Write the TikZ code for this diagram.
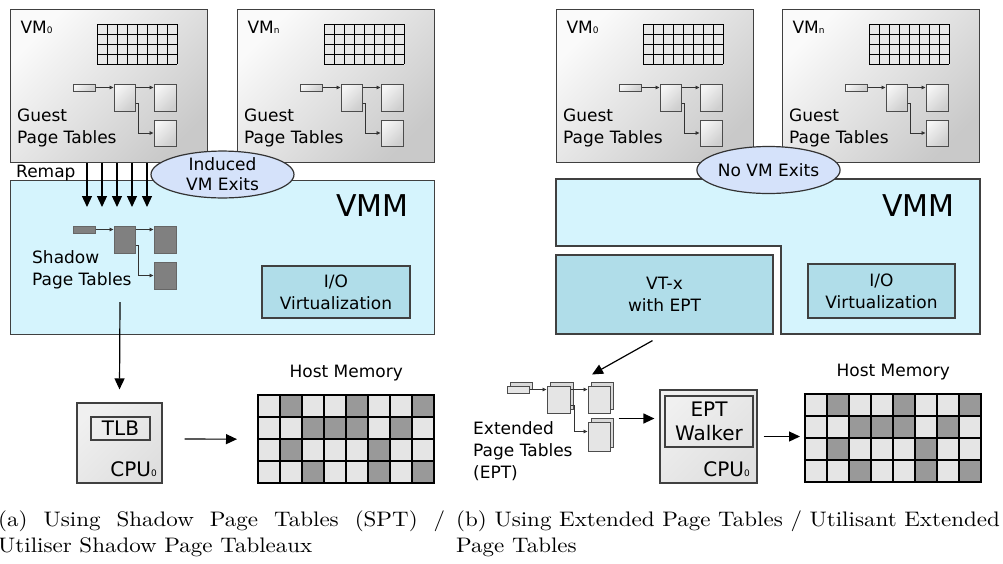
\documentclass[tikz,border=0pt]{standalone}
\usepackage{fontspec}
\newfontfamily\dejavu{DejaVu Sans}
\newfontfamily\capfont{lmroman10-regular.otf}[FakeStretch=1.095]
\usepackage{tikz}
\usetikzlibrary{positioning,shapes.geometric,arrows.meta,shadows}

\definecolor{vmmfill}{RGB}{213,244,253}
\definecolor{iofill}{RGB}{176,221,233}
\definecolor{exitfill}{RGB}{213,226,250}
\definecolor{sptfill}{RGB}{128,128,128}
\definecolor{memlight}{RGB}{229,229,229}
\definecolor{memdark}{RGB}{153,153,153}
\newcommand{\idx}[1]{{\fontsize{9}{9}\selectfont #1}}

\begin{document}
\begin{tikzpicture}[x=1pt, y=-1pt,
  every node/.style={font=\dejavu\fontsize{17}{22}\selectfont},
  >={Triangle[length=11pt,width=10pt]},
  vmbox/.style={draw=black!75, line width=1.2pt, top color=gray!4, bottom color=gray!42,
    shading angle=45, anchor=north west, minimum width=197pt, minimum height=153pt, inner sep=0pt},
  ptab/.style={draw=black!70, line width=1pt, top color=gray!8, bottom color=gray!38,
    shading angle=45, inner sep=0pt},
  sptab/.style={draw=black!60, line width=1pt, fill=sptfill, inner sep=0pt},
  epttab/.style={draw=black!70, line width=1pt, fill=gray!20, inner sep=0pt,
    copy shadow={shadow xshift=3pt, shadow yshift=4pt, fill=gray!30, draw=black!70, line width=1pt}},
  ptarrow/.style={-{Triangle[length=4pt,width=3.5pt]}, line width=0.9pt, draw=black!80},
  vmm/.style={draw=black!75, line width=1.2pt, fill=vmmfill},
  iobox/.style={draw=black!75, line width=1.2pt, fill=iofill, inner sep=0pt, align=center},
  exit/.style={ellipse, draw=black!80, line width=1.2pt, fill=exitfill, inner sep=0pt,
    minimum width=143pt, align=center, font=\dejavu\fontsize{17}{20}\selectfont},
  cpubox/.style={draw=black!75, line width=1.2pt, top color=gray!12, bottom color=gray!25,
    shading angle=45, inner sep=0pt},
  big/.style={font=\dejavu\fontsize{20}{24}\selectfont},
  caption/.style={anchor=north west, inner sep=0pt, font=\capfont\fontsize{21}{26}\selectfont}]
\useasboundingbox (0,0) rectangle (1003,563);

% guest machines, both halves
\foreach \nm/\lx/\lab in {vma/10/0, vmb/237/n, vmc/556/0, vmd/782/n}{
  \begin{scope}[shift={(\lx,0)}]
    \node[vmbox] (\nm) at (0,9) {};
    \node[anchor=base west] (\nm-lab) at (7,33) {VM\idx{\lab}};
    \fill[gray!18] (87,24) rectangle (167,64);
    \foreach \c in {0,...,8} \draw[line width=1pt] (87+10*\c,24) -- (87+10*\c,64);
    \foreach \r in {0,...,4} \draw[line width=1pt] (87,24+10*\r) -- (167,24+10*\r);
    \node[ptab, minimum width=22pt, minimum height=7pt] (\nm-s) at (74,87.5) {};
    \node[ptab, minimum width=21pt, minimum height=27pt] (\nm-m) at (114.5,97.5) {};
    \node[ptab, minimum width=22pt, minimum height=27pt] (\nm-t) at (155,97.5) {};
    \node[ptab, minimum width=22pt, minimum height=26pt] (\nm-b) at (155,133) {};
    \draw[ptarrow] (\nm-s.east) -- (\nm-m.west |- \nm-s.east);
    \draw[ptarrow] (\nm-m.east |- \nm-s.east) -- (\nm-t.west |- \nm-s.east);
    \draw[ptarrow] ([yshift=-6pt]\nm-m.east) -- ++(3,0) |- (\nm-b.west);
    \node[anchor=base west, align=left, inner sep=0pt] (\nm-txt) at (7,143) {Guest\\Page Tables};
  \end{scope}
}

% host memory, both halves
\foreach \nm/\mx/\my in {meml/258/395, memr/805/394}{
  \node[fill=memlight, inner sep=0pt, anchor=north west, minimum width=176pt, minimum height=88pt] (\nm) at (\mx,\my) {};
  \foreach \r/\cs in {1/{2,5,8}, 2/{3,4,5,7}, 3/{2,6}, 4/{3,6,8}}
    \foreach \c in \cs \fill[memdark] (\mx+22*\c-22,\my+22*\r-22) rectangle ++(22,22);
  \foreach \i in {0,...,8} \draw[line width=2.5pt] (\mx+22*\i,\my) -- ++(0,88);
  \foreach \i in {0,...,4} \draw[line width=2.5pt] (\mx-1.25,\my+22*\i) -- ++(178.5,0);
  \node[above=10pt of \nm] (\nm-lab) {Host Memory};
}

% (a) shadow page tables
\node[vmm, anchor=north west, minimum width=424pt, minimum height=154pt, inner sep=0pt] (vmml) at (10,180) {};
\node[anchor=base east, font=\dejavu\fontsize{30}{30}\selectfont] (vmml-lab) at (412,216) {VMM};
\foreach \i/\x in {1/87,2/102,3/117,4/132,5/147}{
  \coordinate (rm\i) at (\x,207);
  \draw[->, line width=1.2pt] (vma.south -| rm\i) -- (rm\i);
}
\node[anchor=base west, inner sep=0pt] (remap) at (16,177) {Remap};
\node[exit, minimum height=43pt] (exitl) at (222.5,174.5) {Induced\\VM Exits};
\node[sptab, minimum width=22pt, minimum height=7pt] (sps) at (84,229.5) {};
\node[sptab, minimum width=21pt, minimum height=27pt] (spm) at (124.5,239.5) {};
\node[sptab, minimum width=22pt, minimum height=27pt] (spt) at (165,239.5) {};
\node[sptab, minimum width=22pt, minimum height=27pt] (spb) at (165,275.5) {};
\draw[ptarrow] (sps.east) -- (spm.west |- sps.east);
\draw[ptarrow] (spm.east |- sps.east) -- (spt.west |- sps.east);
\draw[ptarrow] ([yshift=-6pt]spm.east) -- ++(3,0) |- (spb.west);
\node[anchor=base west, align=left, inner sep=0pt] (sptxt) at (32,285) {Shadow\\Page Tables};
\node[iobox, minimum width=148pt, minimum height=52pt] (iol) at (336,292) {I/O\\Virtualization};
\coordinate (sptout) at (120,302);
\node[cpubox, minimum width=85pt, minimum height=80pt] (cpul) at (119.5,443) {};
\node[draw=black!75, line width=1.2pt, inner sep=0pt, minimum width=59pt, minimum height=23pt, big] (tlb) at (120.5,428.5) {TLB};
\node[anchor=base east, inner sep=0pt, big] (cpul-lab) at (157,476) {CPU\idx{0}};
\draw[->, line width=1.2pt] (sptout) -- ([yshift=13pt]cpul.north);
\draw[->, line width=1.2pt, shorten <=22pt, shorten >=21pt] ([yshift=4pt]cpul.east) -- (meml.west);

% (b) extended page tables
\draw[vmm] (556,179) -- (980,179) -- (980,334) -- (781,334) -- (781,246) -- (556,246) -- cycle;
\node[anchor=base east, font=\dejavu\fontsize{30}{30}\selectfont] (vmmr-lab) at (958,216) {VMM};
\node[exit, minimum height=47pt] (exitr) at (768.5,170) {No VM Exits};
\node[iobox, minimum width=217pt, minimum height=79pt] (vtx) at (664.5,294.5) {VT-x\\with EPT};
\node[iobox, minimum width=147pt, minimum height=54pt] (ior) at (881.5,291) {I/O\\Virtualization};
\node[epttab, minimum width=22pt, minimum height=7pt] (ept-s) at (518,389.5) {};
\node[epttab, minimum width=23pt, minimum height=27pt] (ept-m) at (558.5,399.5) {};
\node[epttab, minimum width=22pt, minimum height=27pt] (ept-t) at (599,399.5) {};
\node[epttab, minimum width=22pt, minimum height=29pt] (ept-b) at (599,436.5) {};
\draw[ptarrow] (ept-s.east) -- (ept-m.west |- ept-s.east);
\draw[ptarrow] (ept-m.east |- ept-s.east) -- (ept-t.west |- ept-s.east);
\draw[ptarrow] ([yshift=-6pt]ept-m.east) -- ++(4,0) |- ([yshift=5pt]ept-b.west);
\node[anchor=base west, align=left, inner sep=0pt] (epttxt) at (473,478) {Extended\\Page Tables\\(EPT)};
\draw[->, line width=1.2pt] ([xshift=-12pt,yshift=-6pt]vtx.south) -- ([xshift=-7pt,yshift=11pt]ept-t.north);
\node[cpubox, minimum width=97pt, minimum height=93pt] (cpur) at (708.5,436.5) {};
\node[draw=black!75, line width=1.2pt, inner sep=0pt, minimum width=88pt, minimum height=51pt, align=center, big] (walker) at (709,421.5) {EPT\\Walker};
\node[anchor=base east, inner sep=0pt, big] (cpur-lab) at (750,476) {CPU\idx{0}};
\draw[->, line width=1.2pt, shorten <=8pt, shorten >=5pt] ([yshift=3pt]ept-b.north east) -- ([yshift=3pt]ept-b.north east -| cpur.west);
\draw[->, line width=1.2pt, shorten <=6pt, shorten >=5pt] (cpur.east) -- (memr.west |- cpur.east);

% captions
\node[caption, text width=447pt, align=justify] (capa) at (-2,511) {(a) Using Shadow Page Tables (SPT) /\linebreak Utiliser Shadow Page Tableaux};
\node[caption, align=left] (capb) at (456,511) {(b) Using Extended Page Tables / Utilisant Extended\\Page Tables};
\end{tikzpicture}
\end{document}
